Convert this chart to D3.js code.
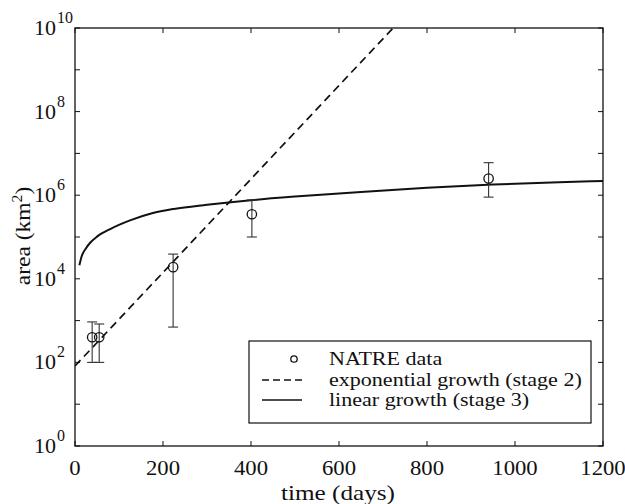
<!DOCTYPE html>
<head>
	<meta charset="utf-8">
	<title>NATRE area growth</title>
</head>
<style>
body { margin: 0; background: #fff; }
text { font-family: "Liberation Serif", "Times New Roman", serif; fill: #111; }
.frame { fill: none; stroke: #111; stroke-width: 1.3px; }
.tick { stroke: #111; stroke-width: 1px; }
</style>
<svg id="svg" width="625" height="504"></svg>
<script src="https://cdn.jsdelivr.net/npm/d3@7"></script>
<script>

// NATRE observations (days, km^2) with error bar limits
var natreDays  = [39, 55, 223, 402, 940];
var natreArea  = [400, 400, 1.9e4, 3.5e5, 2.5e6];
var natreLow   = [100, 100, 700, 1.0e5, 9.0e5];
var natreHigh  = [930, 830, 3.9e4, 7.7e5, 6.0e6];

// exponential growth (stage 2), straight in log space
var expDays = [0, 723];
var expArea = [82, 1e10];

// linear growth (stage 3)
var linDays = [10, 15, 25, 35, 50, 80, 125, 175, 225, 300, 400, 500, 650, 800, 950, 1100, 1200];
var linArea = [2.1e4, 3.4e4, 5.4e4, 7.4e4, 1.02e5, 1.55e5, 2.5e5, 3.7e5, 4.7e5, 5.9e5,
               7.6e5, 9.3e5, 1.2e6, 1.5e6, 1.8e6, 2.05e6, 2.2e6];

var xTicks = [0, 200, 400, 600, 800, 1000, 1200];
var yTicks = [0, 1, 2, 3, 4, 5, 6, 7, 8, 9, 10];   // decades
var yLabels = [0, 2, 4, 6, 8, 10];

var legendLabels = ["NATRE data", "exponential growth (stage 2)", "linear growth (stage 3)"];

var svg = d3.select("svg");
var pL = 75, pR = 603, pT = 28, pB = 446;

var x = d3.scaleLinear().domain([0, 1200]).range([pL, pR]);
var y = d3.scaleLog().domain([1, 1e10]).range([pB, pT]);

// the scanned type is a bit wider than Liberation Serif
function stretch(sel, k) {
  var w = sel.node().getComputedTextLength();
  sel.attr("textLength", w * k).attr("lengthAdjust", "spacingAndGlyphs");
  return sel;
}

// ticks, inward on all four sides
var tl = 5;
var g = svg.append("g");
xTicks.forEach(function (t) {
  g.append("line").attr("class", "tick")
    .attr("x1", x(t)).attr("x2", x(t)).attr("y1", pB).attr("y2", pB - tl);
  g.append("line").attr("class", "tick")
    .attr("x1", x(t)).attr("x2", x(t)).attr("y1", pT).attr("y2", pT + tl);
  stretch(g.append("text").attr("x", x(t)).attr("y", 475)
    .attr("text-anchor", "middle").attr("font-size", 21).text(t), 1.08);
});
yTicks.forEach(function (e) {
  var yy = y(Math.pow(10, e));
  g.append("line").attr("class", "tick")
    .attr("x1", pL).attr("x2", pL + tl).attr("y1", yy).attr("y2", yy);
  g.append("line").attr("class", "tick")
    .attr("x1", pR).attr("x2", pR - tl).attr("y1", yy).attr("y2", yy);
});
yLabels.forEach(function (e) {
  var yy = y(Math.pow(10, e));
  var t = g.append("text").attr("x", 34).attr("y", yy + 7)
    .attr("text-anchor", "start").attr("font-size", 22);
  t.append("tspan").text("10");
  t.append("tspan").attr("dy", -12).attr("dx", 1).attr("font-size", 16).text(e);
});

// frame
svg.append("rect").attr("class", "frame")
  .attr("x", pL).attr("y", pT).attr("width", pR - pL).attr("height", pB - pT);

// clip for lines
svg.append("clipPath").attr("id", "clip")
  .append("rect").attr("x", pL).attr("y", pT).attr("width", pR - pL).attr("height", pB - pT);

var line = d3.line().x(function (d) { return x(d[0]); }).y(function (d) { return y(d[1]); });

svg.append("path")
  .datum(d3.zip(linDays, linArea))
  .attr("clip-path", "url(#clip)")
  .attr("d", line.curve(d3.curveMonotoneX))
  .attr("fill", "none").attr("stroke", "#111").attr("stroke-width", 2);

svg.append("path")
  .datum(d3.zip(expDays, expArea))
  .attr("clip-path", "url(#clip)")
  .attr("d", line.curve(d3.curveLinear))
  .attr("fill", "none").attr("stroke", "#111").attr("stroke-width", 1.7)
  .attr("stroke-dasharray", "8,5");

// error bars and points
var pts = natreDays.map(function (d, i) {
  return { t: d, a: natreArea[i], lo: natreLow[i], hi: natreHigh[i] };
});
var eb = svg.append("g").attr("stroke", "#333").attr("stroke-width", 1.1);
pts.forEach(function (p) {
  eb.append("line").attr("x1", x(p.t)).attr("x2", x(p.t)).attr("y1", y(p.lo)).attr("y2", y(p.hi));
  eb.append("line").attr("x1", x(p.t) - 5).attr("x2", x(p.t) + 5).attr("y1", y(p.lo)).attr("y2", y(p.lo));
  eb.append("line").attr("x1", x(p.t) - 5).attr("x2", x(p.t) + 5).attr("y1", y(p.hi)).attr("y2", y(p.hi));
});
svg.append("g").selectAll("circle").data(pts).enter().append("circle")
  .attr("cx", function (d) { return x(d.t); })
  .attr("cy", function (d) { return y(d.a); })
  .attr("r", 4.7).attr("fill", "none").attr("stroke", "#111").attr("stroke-width", 1.3);

// axis titles
stretch(svg.append("text").attr("x", 338).attr("y", 500).attr("text-anchor", "middle")
  .attr("font-size", 21).text("time (days)"), 1.2);
var yt = svg.append("text").attr("transform", "translate(30,236) rotate(-90)")
  .attr("text-anchor", "middle").attr("font-size", 21);
yt.append("tspan").text("area  (km");
yt.append("tspan").attr("dy", -8).attr("font-size", 14).text("2");
yt.append("tspan").attr("dy", 8).text(")");
stretch(yt, 1.12);

// legend
var lg = svg.append("g");
lg.append("rect").attr("x", 249).attr("y", 341).attr("width", 342).attr("height", 82)
  .attr("fill", "#fff").attr("stroke", "#111").attr("stroke-width", 1.2);
var rows = [359, 380, 400];
lg.append("circle").attr("cx", 294).attr("cy", rows[0]).attr("r", 3.2)
  .attr("fill", "none").attr("stroke", "#111").attr("stroke-width", 1.3);
lg.append("line").attr("x1", 262).attr("x2", 302).attr("y1", rows[1]).attr("y2", rows[1])
  .attr("stroke", "#111").attr("stroke-width", 1.5).attr("stroke-dasharray", "7,4");
lg.append("line").attr("x1", 262).attr("x2", 302).attr("y1", rows[2]).attr("y2", rows[2])
  .attr("stroke", "#111").attr("stroke-width", 1.5);
legendLabels.forEach(function (s, i) {
  stretch(lg.append("text").attr("x", 329).attr("y", rows[i] + 6).attr("font-size", 19).text(s), 1.16);
});

</script>
